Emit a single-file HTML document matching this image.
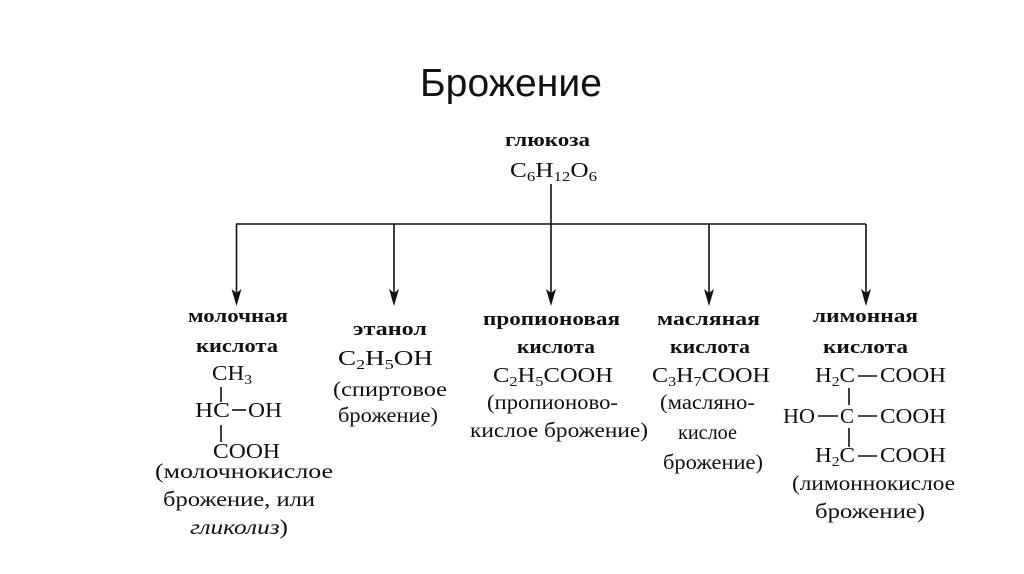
<!DOCTYPE html>
<html><head><meta charset="utf-8"><style>
html,body{margin:0;padding:0;background:#fff;}
svg{display:block}
.t{font-family:"Liberation Serif",serif;font-size:21px;fill:#111}
.b{font-family:"Liberation Serif",serif;font-size:19px;font-weight:bold;fill:#111}
.s{font-size:14px}
</style></head><body>
<svg width="1024" height="574" viewBox="0 0 1024 574" xmlns="http://www.w3.org/2000/svg">
<text x="511" y="96" text-anchor="middle" font-family="Liberation Sans,sans-serif" font-size="39" fill="#111" textLength="182">Брожение</text>
<g stroke="#111" stroke-width="1.6" fill="none">
<line x1="551" y1="184" x2="551" y2="225"/>
<line x1="236" y1="224" x2="866" y2="224"/>
<line x1="236.5" y1="224" x2="236.5" y2="296"/>
<line x1="394" y1="224" x2="394" y2="296"/>
<line x1="551" y1="224" x2="551" y2="296"/>
<line x1="709" y1="224" x2="709" y2="296"/>
<line x1="866" y1="224" x2="866" y2="296"/>
<line x1="221" y1="387" x2="221" y2="402"/>
<line x1="232" y1="410" x2="246" y2="410"/>
<line x1="221" y1="425" x2="221" y2="442"/>
<line x1="858" y1="376" x2="877" y2="376"/>
<line x1="818" y1="416" x2="838" y2="416"/>
<line x1="858" y1="416" x2="877" y2="416"/>
<line x1="858" y1="456" x2="877" y2="456"/>
<line x1="849" y1="388" x2="849" y2="405"/>
<line x1="849" y1="428" x2="849" y2="447"/>
</g>
<g fill="#111">
<path d="M231.5,289 L236.5,293 L241.5,289 L236.5,306 Z"/>
<path d="M389,289 L394,293 L399,289 L394,306 Z"/>
<path d="M546,289 L551,293 L556,289 L551,306 Z"/>
<path d="M704,289 L709,293 L714,289 L709,306 Z"/>
<path d="M861,289 L866,293 L871,289 L866,306 Z"/>
</g>
<text class="b" x="505" y="146" textLength="85" lengthAdjust="spacingAndGlyphs">глюкоза</text>
<text class="t" x="510" y="177" textLength="87" lengthAdjust="spacingAndGlyphs">C<tspan class="s" dy="4">6</tspan><tspan dy="-4">H</tspan><tspan class="s" dy="4">12</tspan><tspan dy="-4">O</tspan><tspan class="s" dy="4">6</tspan></text>

<text class="b" x="188" y="322" textLength="100" lengthAdjust="spacingAndGlyphs">молочная</text>
<text class="b" x="196" y="352" textLength="82" lengthAdjust="spacingAndGlyphs">кислота</text>
<text class="t" x="212" y="380" textLength="40" lengthAdjust="spacingAndGlyphs">CH<tspan class="s" dy="4">3</tspan></text>
<text class="t" x="195" y="417" textLength="35" lengthAdjust="spacingAndGlyphs">HC</text>
<text class="t" x="248" y="417" textLength="34" lengthAdjust="spacingAndGlyphs">OH</text>
<text class="t" x="213" y="458" textLength="67" lengthAdjust="spacingAndGlyphs">COOH</text>
<text class="t" x="155" y="478" textLength="178" lengthAdjust="spacingAndGlyphs">(молочнокислое</text>
<text class="t" x="163" y="506" textLength="152" lengthAdjust="spacingAndGlyphs">брожение, или</text>
<text class="t" x="190" y="534" textLength="98" lengthAdjust="spacingAndGlyphs"><tspan font-style="italic">гликолиз</tspan>)</text>

<text class="b" x="353" y="335" textLength="74" lengthAdjust="spacingAndGlyphs">этанол</text>
<text class="t" x="338" y="365" textLength="95" lengthAdjust="spacingAndGlyphs">C<tspan class="s" dy="4">2</tspan><tspan dy="-4">H</tspan><tspan class="s" dy="4">5</tspan><tspan dy="-4">OH</tspan></text>
<text class="t" x="333" y="396" textLength="114" lengthAdjust="spacingAndGlyphs">(спиртовое</text>
<text class="t" x="338" y="422" textLength="100" lengthAdjust="spacingAndGlyphs">брожение)</text>

<text class="b" x="483" y="325" textLength="137" lengthAdjust="spacingAndGlyphs">пропионовая</text>
<text class="b" x="517" y="353" textLength="78" lengthAdjust="spacingAndGlyphs">кислота</text>
<text class="t" x="493" y="382" textLength="120" lengthAdjust="spacingAndGlyphs">C<tspan class="s" dy="4">2</tspan><tspan dy="-4">H</tspan><tspan class="s" dy="4">5</tspan><tspan dy="-4">COOH</tspan></text>
<text class="t" x="487" y="409" textLength="131" lengthAdjust="spacingAndGlyphs">(пропионово-</text>
<text class="t" x="470" y="437" textLength="178" lengthAdjust="spacingAndGlyphs">кислое брожение)</text>

<text class="b" x="657" y="325" textLength="103" lengthAdjust="spacingAndGlyphs">масляная</text>
<text class="b" x="670" y="353" textLength="80" lengthAdjust="spacingAndGlyphs">кислота</text>
<text class="t" x="652" y="382" textLength="118" lengthAdjust="spacingAndGlyphs">C<tspan class="s" dy="4">3</tspan><tspan dy="-4">H</tspan><tspan class="s" dy="4">7</tspan><tspan dy="-4">COOH</tspan></text>
<text class="t" x="660" y="409" textLength="95" lengthAdjust="spacingAndGlyphs">(масляно-</text>
<text class="t" x="678" y="439" textLength="59" lengthAdjust="spacingAndGlyphs">кислое</text>
<text class="t" x="663" y="469" textLength="100" lengthAdjust="spacingAndGlyphs">брожение)</text>

<text class="b" x="813" y="322" textLength="105" lengthAdjust="spacingAndGlyphs">лимонная</text>
<text class="b" x="823" y="353" textLength="85" lengthAdjust="spacingAndGlyphs">кислота</text>
<text class="t" x="815" y="382" textLength="40" lengthAdjust="spacingAndGlyphs">H<tspan class="s" dy="4">2</tspan><tspan dy="-4">C</tspan></text>
<text class="t" x="880" y="382" textLength="66" lengthAdjust="spacingAndGlyphs">COOH</text>
<text class="t" x="783" y="423" textLength="32" lengthAdjust="spacingAndGlyphs">HO</text>
<text class="t" x="840" y="423">C</text>
<text class="t" x="880" y="423" textLength="66" lengthAdjust="spacingAndGlyphs">COOH</text>
<text class="t" x="815" y="462" textLength="40" lengthAdjust="spacingAndGlyphs">H<tspan class="s" dy="4">2</tspan><tspan dy="-4">C</tspan></text>
<text class="t" x="880" y="462" textLength="66" lengthAdjust="spacingAndGlyphs">COOH</text>
<text class="t" x="792" y="490" textLength="163" lengthAdjust="spacingAndGlyphs">(лимоннокислое</text>
<text class="t" x="815" y="518" textLength="110" lengthAdjust="spacingAndGlyphs">брожение)</text>
</svg>
</body></html>
